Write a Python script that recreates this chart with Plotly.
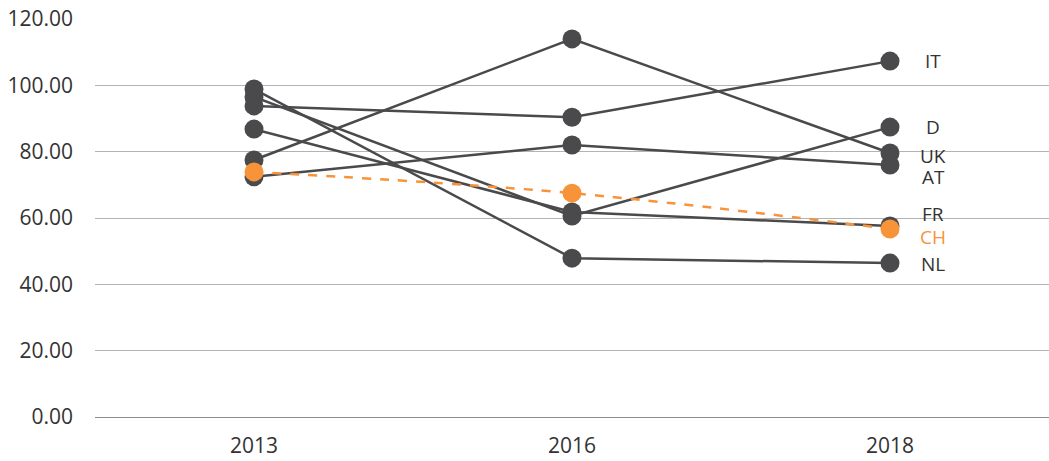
import plotly.graph_objects as go

years = ["2013", "2016", "2018"]
countries = ["IT", "UK", "D", "AT", "FR", "NL", "CH"]
values = {
    "IT": [93.8, 90.4, 107.3],
    "UK": [77.5, 114.0, 79.6],
    "D":  [96.5, 60.6, 87.4],
    "AT": [72.4, 82.0, 76.0],
    "FR": [86.8, 61.8, 57.6],
    "NL": [98.9, 47.9, 46.4],
    "CH": [73.9, 67.5, 56.7],
}
label_yshift = {"IT": 0, "UK": -3, "AT": -12, "D": 0, "FR": 12, "CH": -8, "NL": -1}

GRAY = "#4a4a4c"
ORANGE = "#f7943a"
TXT = "#333333"
FONT = "Open Sans"

fig = go.Figure()
for c in countries:
    if c == "CH":
        continue
    fig.add_trace(go.Scatter(
        x=years, y=values[c], mode="lines+markers", name=c,
        line=dict(color=GRAY, width=2.5),
        marker=dict(color=GRAY, size=19),
        cliponaxis=False,
    ))
fig.add_trace(go.Scatter(
    x=years, y=values["CH"], mode="lines+markers", name="CH",
    line=dict(color=ORANGE, width=2.5, dash="dash", shape="spline"),
    marker=dict(color=ORANGE, size=19),
    cliponaxis=False,
))

last = len(years) - 1
for c in countries:
    fig.add_annotation(
        x=last, y=values[c][-1], xref="x", yref="y", text=c, showarrow=False,
        xshift=43, yshift=label_yshift[c],
        font=dict(family=FONT, size=19, color=ORANGE if c == "CH" else TXT),
    )

fig.update_layout(
    width=1049, height=461,
    margin=dict(l=95, r=0, t=19, b=44),
    paper_bgcolor="white", plot_bgcolor="white",
    showlegend=False,
    font=dict(family=FONT, size=21, color=TXT),
)
fig.update_xaxes(
    type="category", range=[-0.5, 2.5], showgrid=False, showline=False,
    ticks="", ticklabelstandoff=14, tickfont=dict(size=21, color=TXT),
)
fig.update_yaxes(
    range=[0, 120], tickvals=[0, 20, 40, 60, 80, 100, 120],
    tickformat=".2f", showgrid=True, gridcolor="#b3b3b3", gridwidth=1,
    zeroline=True, zerolinecolor="#8c8c8c", zerolinewidth=1,
    ticks="", ticklabelstandoff=21, tickfont=dict(size=21, color=TXT),
    showline=False,
)

fig.write_html(
    "out.html",
    config={"displayModeBar": False},
    post_script="document.body.style.margin='0';document.body.style.overflow='hidden';",
)
